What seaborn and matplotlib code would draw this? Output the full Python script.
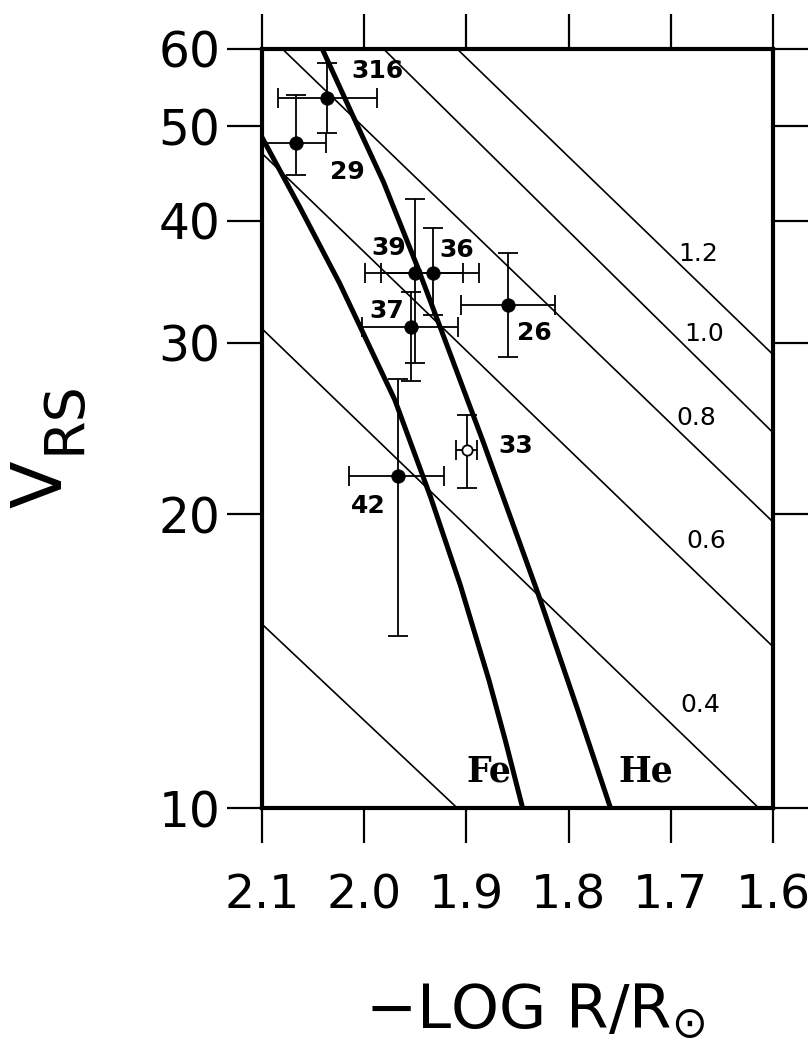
import matplotlib
matplotlib.use("Agg")
import matplotlib.pyplot as plt
import seaborn as sns
import numpy as np
import pandas as pd

# ---------------- data ----------------
# Fe and He mass-radius relations (x = -log R/Rsun, v = V_RS)
fe_x = [2.100, 2.063, 2.024, 1.970, 1.935, 1.906, 1.878, 1.862, 1.845]
fe_v = [48.7, 41.3, 34.5, 26.2, 20.83, 16.93, 13.53, 11.74, 10.0]
he_x = [2.041, 2.012, 1.981, 1.948, 1.921, 1.884, 1.830, 1.791, 1.759]
he_v = [60.0, 51.5, 43.8, 35.9, 30.2, 23.8, 16.6, 12.6, 10.0]

# constant-mass lines: label, start (x, v), end (x, v)
mass_labels = ["", "0.4", "0.6", "0.8", "1.0", "1.2"]
mass_x0 = [2.099, 2.100, 2.100, 2.080, 1.981, 1.909]
mass_v0 = [15.4, 31.0, 46.9, 60.0, 60.0, 60.0]
mass_x1 = [1.909, 1.614, 1.599, 1.599, 1.599, 1.599]
mass_v1 = [10.0, 10.0, 14.6, 19.6, 24.2, 29.1]
mass_lab_x = [None, 1.671, 1.665, 1.675, 1.667, 1.673]
mass_lab_v = [None, 12.75, 18.8, 25.1, 30.6, 37.0]

# observed stars
star_id = ["316", "29", "39", "36", "37", "26", "33", "42"]
star_x = [2.036, 2.067, 1.950, 1.933, 1.954, 1.859, 1.899, 1.967]
star_v = [53.5, 48.1, 35.4, 35.4, 31.1, 32.8, 23.3, 21.9]
star_x_lo = [2.085, 2.097, 1.997, 1.978, 2.000, 1.905, 1.908, 2.012]
star_x_hi = [1.988, 2.018, 1.901, 1.882, 1.906, 1.813, 1.888, 1.919]
star_v_hi = [58.1, 53.8, 42.1, 39.3, 33.8, 37.1, 25.3, 27.5]
star_v_lo = [49.2, 44.6, 28.6, 32.0, 27.4, 29.0, 21.3, 15.0]
star_open = [False, False, False, False, False, False, True, False]
star_lab_x = [1.987, 2.016, 1.976, 1.909, 1.978, 1.833, 1.852, 1.996]
star_lab_v = [57.0, 44.9, 37.5, 37.3, 32.3, 30.7, 23.5, 20.4]

x_ticks = [2.1, 2.0, 1.9, 1.8, 1.7, 1.6]
x_ticklabels = ["2.1", "2.0", "1.9", "1.8", "1.7", "1.6"]
y_ticks = [10, 20, 30, 40, 50, 60]
y_ticklabels = ["10", "20", "30", "40", "50", "60"]

# ---------------- figure ----------------
sns.set_theme(style="white")
plt.rcParams["font.family"] = ["DejaVu Sans"]
for k in ["text.color", "axes.labelcolor", "xtick.color", "ytick.color", "axes.edgecolor"]:
    plt.rcParams[k] = "black"

fig = plt.figure(figsize=(8.1, 10.6), dpi=100)
ax = fig.add_axes([262 / 810, 1 - 808 / 1060, 511 / 810, 759 / 1060])

ax.set_yscale("log")

# constant-mass lines
for i in range(len(mass_labels)):
    d = pd.DataFrame({"x": [mass_x0[i], mass_x1[i]], "v": [mass_v0[i], mass_v1[i]]})
    sns.lineplot(data=d, x="x", y="v", ax=ax, color="black", lw=1.2,
                 sort=False, estimator=None)
    if mass_labels[i]:
        ax.text(mass_lab_x[i], mass_lab_v[i], mass_labels[i], fontsize=18,
                ha="center", va="center", color="black")

# Fe and He curves
sns.lineplot(x=fe_x, y=fe_v, ax=ax, color="black", lw=3.6, sort=False, estimator=None)
sns.lineplot(x=he_x, y=he_v, ax=ax, color="black", lw=3.6, sort=False, estimator=None)
ax.text(1.878, 10.9, "Fe", fontsize=25, fontweight="bold", family="DejaVu Serif",
        ha="center", va="center", color="black")
ax.text(1.725, 10.9, "He", fontsize=25, fontweight="bold", family="DejaVu Serif",
        ha="center", va="center", color="black")

# error bars
sx = np.array(star_x)
sv = np.array(star_v)
xerr = np.vstack([np.array(star_x_lo) - sx, sx - np.array(star_x_hi)])
yerr = np.vstack([sv - np.array(star_v_lo), np.array(star_v_hi) - sv])
ax.errorbar(sx, sv, xerr=xerr, yerr=yerr, fmt="none", ecolor="black",
            elinewidth=1.3, capsize=7, capthick=1.3, zorder=3)

df = pd.DataFrame({"x": star_x, "v": star_v, "open": star_open})
sns.scatterplot(data=df[~df["open"]], x="x", y="v", ax=ax, color="black",
                s=95, edgecolor="black", linewidth=0.5, zorder=4)
sns.scatterplot(data=df[df["open"]], x="x", y="v", ax=ax, color="white",
                s=55, edgecolor="black", linewidth=1.3, zorder=4)

for i, t in enumerate(star_id):
    ax.text(star_lab_x[i], star_lab_v[i], t, fontsize=18, fontweight="bold",
            ha="center", va="center", color="black")

# axes
ax.set_xlim(2.1, 1.6)
ax.set_ylim(10, 60)
ax.set_xticks(x_ticks)
ax.set_xticklabels(x_ticklabels)
ax.set_yticks(y_ticks)
ax.set_yticklabels(y_ticklabels)
ax.yaxis.set_minor_locator(matplotlib.ticker.NullLocator())
ax.xaxis.set_minor_locator(matplotlib.ticker.NullLocator())
ax.tick_params(axis="both", which="major", direction="out", length=25, width=1.6,
               color="black", labelcolor="black",
               top=True, right=True, bottom=True, left=True)
ax.tick_params(axis="x", labelsize=34, pad=22)
ax.tick_params(axis="y", labelsize=35, pad=5)
for s in ax.spines.values():
    s.set_linewidth(3)
    s.set_color("black")
ax.grid(False)

ax.set_xlabel(r"$\mathregular{-LOG\ R/R_{\odot}}$", fontsize=44, color="black")
ax.xaxis.label.set_va("center")
ax.xaxis.set_label_coords(0.534, -0.269)

ax.set_ylabel("V", fontsize=50, rotation=90, color="black")
ax.yaxis.label.set_va("center")
ax.yaxis.label.set_ha("center")
ax.yaxis.set_label_coords(-0.430, 0.427)
ax.text(-0.386, 0.515, "RS", transform=ax.transAxes, rotation=90, fontsize=40,
        ha="center", va="center", color="black")

fig.savefig("out.png", dpi=100, facecolor="white")
